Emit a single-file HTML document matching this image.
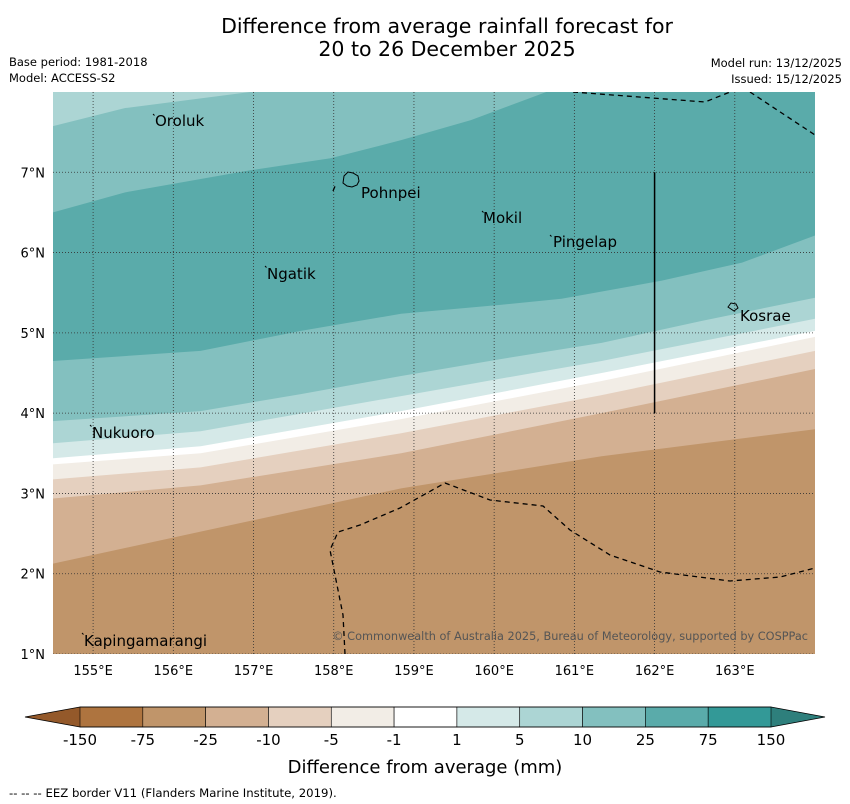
<!DOCTYPE html>
<html><head><meta charset="utf-8">
<style>
body{margin:0;background:#fff;width:850px;height:804px;overflow:hidden;font-family:"DejaVu Sans",sans-serif}
svg{display:block}
</style></head>
<body>
<svg id="chart" width="850" height="804" viewBox="0 0 850 804" xmlns="http://www.w3.org/2000/svg" font-family="DejaVu Sans, Liberation Sans, sans-serif">
<text x="447" y="33" text-anchor="middle" font-size="20.5">Difference from average rainfall forecast for</text>
<text x="447" y="56" text-anchor="middle" font-size="20.5">20 to 26 December 2025</text>
<text x="9" y="66" font-size="11.5">Base period: 1981-2018</text>
<text x="9" y="82" font-size="11.5">Model: ACCESS-S2</text>
<text x="842" y="67" text-anchor="end" font-size="11.5">Model run: 13/12/2025</text>
<text x="842" y="83" text-anchor="end" font-size="11.5">Issued: 15/12/2025</text>
<defs><clipPath id="mapclip"><rect x="53" y="92" width="762" height="562"/></clipPath></defs>
<g id="map" clip-path="url(#mapclip)"></g>
<g id="axes"></g>
<g id="cbar"></g>
<text x="425" y="773" text-anchor="middle" font-size="18">Difference from average (mm)</text>
<text x="9" y="797" font-size="11.7">--  --  -- EEZ border V11 (Flanders Marine Institute, 2019).</text>
</svg>
<script>
const lonMin=154.5, lonMax=164, latMin=1, latMax=8;
const X0=53,X1=815,Y0=92,Y1=654;
function xs(lon){return X0+(lon-lonMin)/(lonMax-lonMin)*(X1-X0);}
function ys(lat){return Y0+(latMax-lat)/(latMax-latMin)*(Y1-Y0);}
const NS='http://www.w3.org/2000/svg';
function mk(tag,attrs,parent){const e=document.createElementNS(NS,tag);for(const k in attrs)e.setAttribute(k,attrs[k]);parent.appendChild(e);return e;}

// contour boundaries (lon, lat), ordered bottom to top
const bLons1=[154.5,156.34,158.84,161.34,164.0];
const bNeg25=[2.125,2.525,3.0625,3.4625,3.8];
const bNeg10=[2.9375,3.1,3.5,4.0,4.55];
const bNeg5=[3.175,3.325,3.75,4.225,4.775];
const bNeg1=[3.3625,3.5,3.925,4.4,4.95];
const bPos1=[3.4375,3.5875,4.025,4.5,5.025];
const bPos5=[3.625,3.775,4.2125,4.65,5.175];
const bLons10=[154.5,156.34,157.59,158.84,160.09,161.34,162.59,164.0];
const bPos10=[3.9,4.025,4.2375,4.4625,4.675,4.875,5.15,5.4375];
const bLons25=[154.5,156.34,157.59,158.84,160.09,160.84,162.09,163.09,164.0];
const bPos25=[4.65,4.775,5.025,5.2375,5.35,5.425,5.65,5.875,6.2125];
const bLons25u=[154.5,155.4,156.96,157.96,158.84,159.71,160.65];
const bPos25u=[6.5,6.75,7.025,7.175,7.4,7.65,8.0];
const bLons10u=[154.5,155.4,156.96];
const bPos10u=[7.575,7.8,8.0];

const levels=['-150','-75','-25','-10','-5','-1','1','5','10','25','75','150'];
const colors=['#ae743f','#c0956a','#d3b092','#e5d0bf','#f2ede6','#ffffff','#d5e9e8','#acd5d4','#83c0bf','#5aabaa','#339997'];

const map=document.getElementById('map');
const bg=mk('rect',{x:X0,y:Y0,width:X1-X0,height:Y1-Y0,fill:colors[1]},map);


const bands=[[bLons1,bNeg25,colors[2],'band-neg25-to-neg10'],[bLons1,bNeg10,colors[3],'band-neg10-to-neg5'],[bLons1,bNeg5,colors[4],'band-neg5-to-neg1'],[bLons1,bNeg1,colors[5],'band-neg1-to-1'],[bLons1,bPos1,colors[6],'band-1-to-5'],[bLons1,bPos5,colors[7],'band-5-to-10'],[bLons10,bPos10,colors[8],'band-10-to-25'],[bLons25,bPos25,colors[9],'band-25-to-75'],[bLons25u,bPos25u,colors[8],'band-10-to-25-north'],[bLons10u,bPos10u,colors[7],'band-5-to-10-north']];
bands.forEach(b=>{
  let pts=b[0].map((lon,i)=>xs(lon)+','+ys(b[1][i]));
  const lastX=xs(b[0][b[0].length-1]);
  pts.push(lastX+','+Y0, X0+','+Y0);
  const p=mk('polygon',{points:pts.join(' '),fill:b[2]},map);
  
  
});
// grid
const lonTicks=[155,156,157,158,159,160,161,162,163];
const latTicks=[1,2,3,4,5,6,7];
lonTicks.forEach(l=>{const g=mk('line',{x1:xs(l),x2:xs(l),y1:Y0,y2:Y1,stroke:'#333','stroke-width':0.8,'stroke-dasharray':'1,2'},map);

});
latTicks.forEach(l=>{const g=mk('line',{x1:X0,x2:X1,y1:ys(l),y2:ys(l),stroke:'#333','stroke-width':0.8,'stroke-dasharray':'1,2'},map);

});
// EEZ lines
const eez=[
 [[573,92],[705,102],[735,90]],
 [[750,92],[815,135]],
 [[345,654],[343,615],[330,550],[338,532],[360,525],[400,508],[445,483],[490,500],[543,506],[570,530],[610,555],[660,572],[730,581],[780,577],[815,568]],
 [[333,191],[336,184]]
];
eez.forEach(l=>{const e=mk('polyline',{points:l.map(p=>p.join(',')).join(' '),fill:'none',stroke:'#000','stroke-width':1.3,'stroke-dasharray':'5,4'},map);

});
const sl=mk('line',{x1:xs(162),x2:xs(162),y1:ys(7),y2:ys(4),stroke:'#000','stroke-width':1.5},map);


const pi=mk('path',{d:'M344,176 l4,-4 l5,1 l5,3 l1,5 l-2,4 l-5,2 l-5,-1 l-4,-3 z',fill:'none',stroke:'#000','stroke-width':1},map);


const ko=mk('path',{d:'M728,307 l3,-4 l5,1 l2,4 l-4,3 z',fill:'none',stroke:'#000','stroke-width':1},map);


// place labels
const places=[['Oroluk',155,126,153,114],['Pohnpei',361,198,0,0],['Mokil',483,223,482,211],['Pingelap',553,247,550,235],['Ngatik',267,279,265,266],['Kosrae',740,321,0,0],['Nukuoro',92,438,90,425],['Kapingamarangi',84,646,82,633]];
places.forEach(p=>{
  const t=mk('text',{x:p[1],y:p[2],'font-size':15,fill:'#000'},map);t.textContent=p[0];
  
  
  if(p[3]){const d=mk('line',{x1:p[3],y1:p[4],x2:p[3]+1.5,y2:p[4]+1.5,stroke:'#000','stroke-width':1},map);
  
  }
});
const cp=mk('text',{x:808,y:640,'text-anchor':'end','font-size':11.3,fill:'#555'},map);
cp.textContent='© Commonwealth of Australia 2025, Bureau of Meteorology, supported by COSPPac';


// axes labels
const ax=document.getElementById('axes');
lonTicks.forEach(l=>{const t=mk('text',{x:xs(l),y:675,'text-anchor':'middle','font-size':13},ax);t.textContent=l+'°E';

});
latTicks.forEach(l=>{const t=mk('text',{x:45,y:ys(l)+5,'text-anchor':'end','font-size':13},ax);t.textContent=l+'°N';

});
// colorbar
const cb=document.getElementById('cbar');
const cx0=80,cx1=771,cy=707,ch=20,n=colors.length;
const w=(cx1-cx0)/n;
const lt=mk('polygon',{points:`${cx0},${cy} ${cx0},${cy+ch} 25,${cy+ch/2}`,fill:'#94592a'},cb);


const rt=mk('polygon',{points:`${cx1},${cy} ${cx1},${cy+ch} 825,${cy+ch/2}`,fill:'#2e7f7c'},cb);


colors.forEach((c,i)=>{const r=mk('rect',{x:cx0+i*w,y:cy,width:w,height:ch,fill:c,stroke:'#000','stroke-width':0.6},cb);

});
mk('polygon',{points:`25,${cy+ch/2} ${cx0},${cy} ${cx1},${cy} 825,${cy+ch/2} ${cx1},${cy+ch} ${cx0},${cy+ch}`,fill:'none',stroke:'#000','stroke-width':0.8},cb);
levels.forEach((l,i)=>{const t=mk('text',{x:cx0+i*w,y:745,'text-anchor':'middle','font-size':15},cb);t.textContent=l;

});
</script>
</body></html>
